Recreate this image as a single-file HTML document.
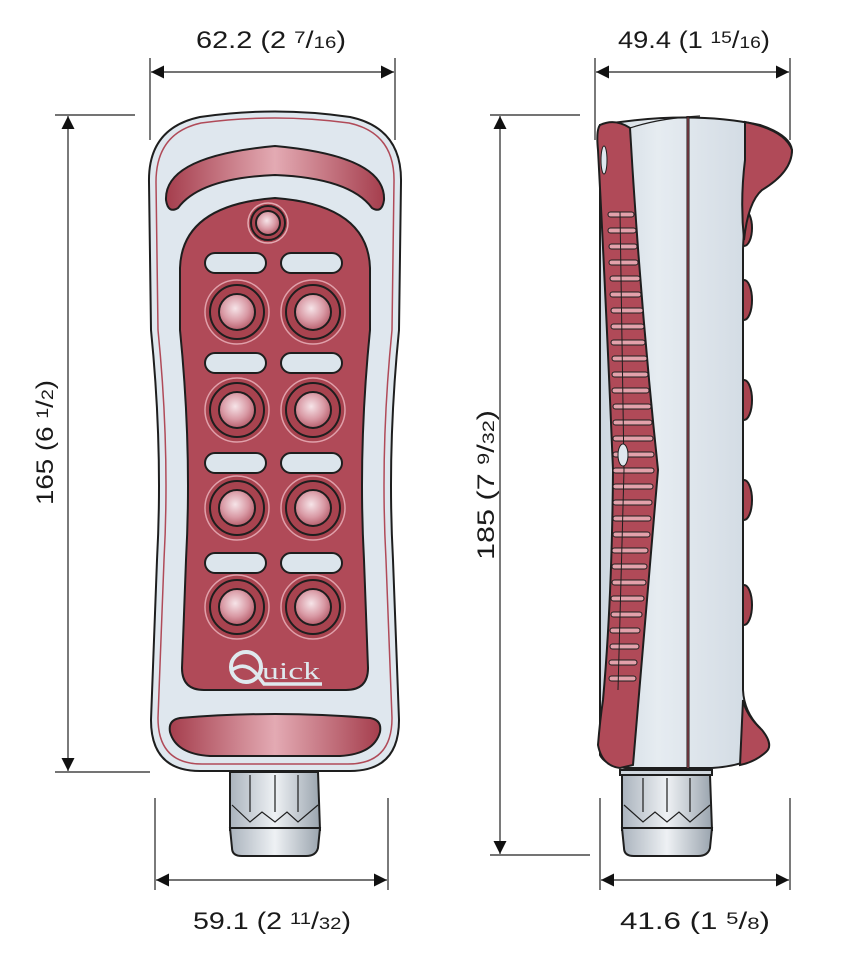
<!DOCTYPE html>
<html><head><meta charset="utf-8"><style>
html,body{margin:0;padding:0;background:#fff;}
svg{display:block;}
.dim{font-family:"Liberation Sans",sans-serif;fill:#1a1a1a;}
</style></head><body>
<svg width="860" height="960" viewBox="0 0 860 960" xmlns="http://www.w3.org/2000/svg">
<defs>
<marker id="ar" viewBox="0 0 10 10" refX="10" refY="5" markerWidth="20" markerHeight="13" markerUnits="userSpaceOnUse" orient="auto-start-reverse"><path d="M0 0 L10 5 L0 10 Z" fill="#111"/></marker>
<radialGradient id="btn" cx="0.45" cy="0.4" r="0.6"><stop offset="0" stop-color="#f6e4e8"/><stop offset="0.6" stop-color="#d99aa5"/><stop offset="1" stop-color="#b8606e"/></radialGradient>
<linearGradient id="bar" x1="0" x2="1"><stop offset="0" stop-color="#a53e4d"/><stop offset="0.5" stop-color="#e3aab3"/><stop offset="1" stop-color="#a53e4d"/></linearGradient>
<linearGradient id="metal" x1="0" x2="1"><stop offset="0" stop-color="#aab3bd"/><stop offset="0.5" stop-color="#eef1f4"/><stop offset="1" stop-color="#9aa4ae"/></linearGradient>
<linearGradient id="grey" x1="0" x2="1"><stop offset="0" stop-color="#cdd7e0"/><stop offset="0.3" stop-color="#e6ecf1"/><stop offset="1" stop-color="#c9d3dd"/></linearGradient>
</defs>

<g stroke="#222" stroke-width="1.2" fill="none">
<line x1="150" y1="58" x2="150" y2="140"/><line x1="395" y1="58" x2="395" y2="140"/>
<line x1="151" y1="72" x2="394" y2="72" marker-start="url(#ar)" marker-end="url(#ar)"/>
<line x1="55" y1="115" x2="135" y2="115"/><line x1="55" y1="772" x2="150" y2="772"/>
<line x1="68" y1="116" x2="68" y2="771" marker-start="url(#ar)" marker-end="url(#ar)"/>
<line x1="155" y1="798" x2="155" y2="890"/><line x1="388" y1="798" x2="388" y2="890"/>
<line x1="156" y1="880" x2="387" y2="880" marker-start="url(#ar)" marker-end="url(#ar)"/>
<line x1="595" y1="58" x2="595" y2="140"/><line x1="790" y1="58" x2="790" y2="140"/>
<line x1="596" y1="72" x2="789" y2="72" marker-start="url(#ar)" marker-end="url(#ar)"/>
<line x1="490" y1="115" x2="580" y2="115"/><line x1="490" y1="855" x2="590" y2="855"/>
<line x1="500" y1="116" x2="500" y2="854" marker-start="url(#ar)" marker-end="url(#ar)"/>
<line x1="600" y1="798" x2="600" y2="890"/><line x1="790" y1="798" x2="790" y2="890"/>
<line x1="601" y1="880" x2="789" y2="880" marker-start="url(#ar)" marker-end="url(#ar)"/>
</g>

<g class="dim" font-size="24">
<text x="196" y="48" textLength="150" lengthAdjust="spacingAndGlyphs">62.2  (2 <tspan font-size="17" dy="-5">7</tspan><tspan dy="5">/</tspan><tspan font-size="17">16</tspan>)</text>
<text x="618" y="48" textLength="152" lengthAdjust="spacingAndGlyphs">49.4  (1 <tspan font-size="17" dy="-5">15</tspan><tspan dy="5">/</tspan><tspan font-size="17">16</tspan>)</text>
<text x="193" y="929" textLength="158" lengthAdjust="spacingAndGlyphs">59.1  (2 <tspan font-size="17" dy="-5">11</tspan><tspan dy="5">/</tspan><tspan font-size="17">32</tspan>)</text>
<text x="620" y="929" textLength="150" lengthAdjust="spacingAndGlyphs">41.6  (1 <tspan font-size="17" dy="-5">5</tspan><tspan dy="5">/</tspan><tspan font-size="17">8</tspan>)</text>
<text transform="translate(53,505) rotate(-90)" textLength="125" lengthAdjust="spacingAndGlyphs">165  (6 <tspan font-size="17" dy="-5">1</tspan><tspan dy="5">/</tspan><tspan font-size="17">2</tspan>)</text>
<text transform="translate(494,560) rotate(-90)" textLength="150" lengthAdjust="spacingAndGlyphs">185  (7 <tspan font-size="17" dy="-5">9</tspan><tspan dy="5">/</tspan><tspan font-size="17">32</tspan>)</text>
</g>

<!-- FRONT VIEW -->
<g stroke="#1e1e1e" stroke-width="2">
<path d="M230 772 L318 772 L320 830 L230 830 Z" fill="url(#metal)"/>
<path d="M230 828 L320 828 L318 848 Q316 856 306 856 L242 856 Q232 856 232 848 Z" fill="url(#metal)"/>
<g stroke-width="1.2" fill="none"><line x1="250" y1="775" x2="250" y2="812"/><line x1="275" y1="775" x2="275" y2="812"/><line x1="298" y1="775" x2="298" y2="812"/>
<path d="M232 805 L250 822 L262 812 L275 822 L287 812 L298 822 L318 805"/></g>
<path d="M200 117 Q275 106 350 117 Q402 128 401 182 L399 330 Q387 450 393 560 L399 720 Q399 771 350 771 L200 771 Q151 771 151 720 L157 560 Q163 450 151 330 L149 182 Q148 128 200 117 Z" fill="#dfe7ee" stroke="#1e1e1e"/>
<path d="M201 123 Q275 113 349 123 Q395 133 394 182 L392 330 Q380 450 386 560 L392 718 Q392 764 348 764 L202 764 Q158 764 158 718 L164 560 Q170 450 158 330 L156 182 Q156 133 201 123 Z" fill="none" stroke="#b04a58" stroke-width="1.5"/>
<path d="M166 200 Q164 156 275 146 Q386 156 384 200 Q382 214 372 208 Q350 178 275 175 Q200 178 178 208 Q168 214 166 200 Z" fill="url(#bar)"/>
<path d="M180 718 Q275 710 370 718 Q382 720 380 732 Q374 754 340 756 L210 756 Q176 754 170 732 Q168 720 180 718 Z" fill="url(#bar)"/>
<path d="M180 268 Q182 205 275 198 Q368 205 370 268 L370 330 Q358 450 364 560 L368 668 Q368 690 346 690 L204 690 Q182 690 182 668 L186 560 Q192 450 180 330 Z" fill="#b04a58"/>
<circle cx="268" cy="223" r="20" fill="#a8434f" stroke="#e4aab2" stroke-width="1.5"/>
<circle cx="268" cy="223" r="17" fill="#a8434f"/>
<circle cx="268" cy="223" r="12" fill="url(#btn)"/>
<g fill="#dce5ec">
<rect x="205" y="253" width="61" height="20" rx="10"/><rect x="281" y="253" width="61" height="20" rx="10"/>
<rect x="205" y="353" width="61" height="20" rx="10"/><rect x="281" y="353" width="61" height="20" rx="10"/>
<rect x="205" y="453" width="61" height="20" rx="10"/><rect x="281" y="453" width="61" height="20" rx="10"/>
<rect x="205" y="553" width="61" height="20" rx="10"/><rect x="281" y="553" width="61" height="20" rx="10"/>
</g>
<g>
<g><circle cx="237" cy="312" r="32" fill="#a8434f" stroke="#e0a0aa" stroke-width="1.5"/><circle cx="237" cy="312" r="27" fill="#a8434f"/><circle cx="237" cy="312" r="18" fill="url(#btn)"/></g>
<g><circle cx="313" cy="312" r="32" fill="#a8434f" stroke="#e0a0aa" stroke-width="1.5"/><circle cx="313" cy="312" r="27" fill="#a8434f"/><circle cx="313" cy="312" r="18" fill="url(#btn)"/></g>
<g><circle cx="237" cy="410" r="32" fill="#a8434f" stroke="#e0a0aa" stroke-width="1.5"/><circle cx="237" cy="410" r="27" fill="#a8434f"/><circle cx="237" cy="410" r="18" fill="url(#btn)"/></g>
<g><circle cx="313" cy="410" r="32" fill="#a8434f" stroke="#e0a0aa" stroke-width="1.5"/><circle cx="313" cy="410" r="27" fill="#a8434f"/><circle cx="313" cy="410" r="18" fill="url(#btn)"/></g>
<g><circle cx="237" cy="508" r="32" fill="#a8434f" stroke="#e0a0aa" stroke-width="1.5"/><circle cx="237" cy="508" r="27" fill="#a8434f"/><circle cx="237" cy="508" r="18" fill="url(#btn)"/></g>
<g><circle cx="313" cy="508" r="32" fill="#a8434f" stroke="#e0a0aa" stroke-width="1.5"/><circle cx="313" cy="508" r="27" fill="#a8434f"/><circle cx="313" cy="508" r="18" fill="url(#btn)"/></g>
<g><circle cx="237" cy="607" r="32" fill="#a8434f" stroke="#e0a0aa" stroke-width="1.5"/><circle cx="237" cy="607" r="27" fill="#a8434f"/><circle cx="237" cy="607" r="18" fill="url(#btn)"/></g>
<g><circle cx="313" cy="607" r="32" fill="#a8434f" stroke="#e0a0aa" stroke-width="1.5"/><circle cx="313" cy="607" r="27" fill="#a8434f"/><circle cx="313" cy="607" r="18" fill="url(#btn)"/></g>
</g>
</g>
<g>
<circle cx="246" cy="667" r="15" fill="none" stroke="#dfe9ee" stroke-width="4"/>
<path d="M232 670 Q246 660 258 676 L264 684 L322 684" fill="none" stroke="#dfe9ee" stroke-width="3.5"/>
<text x="262" y="679" font-family="Liberation Serif,serif" font-size="24" fill="#dfe9ee" textLength="58" lengthAdjust="spacingAndGlyphs">uick</text>
</g>

<!-- SIDE VIEW -->
<g stroke="#1e1e1e" stroke-width="2">
<path d="M620 770 L712 770 L712 775 L620 775 Z" fill="#cfd6dd"/>
<path d="M622 775 L710 775 L712 830 L622 830 Z" fill="url(#metal)"/>
<path d="M622 828 L712 828 L710 848 Q708 856 698 856 L634 856 Q624 856 624 848 Z" fill="url(#metal)"/>
<g stroke-width="1.2" fill="none"><line x1="643" y1="778" x2="643" y2="812"/><line x1="667" y1="778" x2="667" y2="812"/><line x1="690" y1="778" x2="690" y2="812"/>
<path d="M624 805 L643 822 L655 812 L667 822 L679 812 L690 822 L710 805"/></g>
<g fill="#a8434f">
<ellipse cx="744" cy="228" rx="8" ry="18"/><ellipse cx="744" cy="300" rx="8" ry="20"/><ellipse cx="744" cy="400" rx="8" ry="20"/><ellipse cx="744" cy="500" rx="8" ry="20"/><ellipse cx="744" cy="605" rx="8" ry="20"/>
</g>
<path d="M600 125 Q690 110 760 125 Q790 135 792 150 Q790 175 760 190 Q744 205 743 250 L743 690 Q744 712 760 728 Q772 745 765 752 Q745 766 712 768 L625 768 Q605 765 600 755 Z" fill="url(#grey)"/>
<path d="M745 122 Q785 130 792 150 Q792 172 762 190 Q748 202 744 240 Q740 200 745 160 Z" fill="#b04a58"/>
<path d="M743 700 Q746 715 762 730 Q774 745 766 752 Q755 762 740 765 Z" fill="#b04a58"/>
<path d="M600 125 Q615 118 630 128 Q640 300 658 470 Q645 620 633 765 L620 768 Q602 766 598 745 Q600 720 603 700 Q612 600 613 470 Q606 300 598 150 Q596 130 600 125 Z" fill="#b04a58"/>
<path d="M688 116 L688 768" stroke="#1e1e1e" stroke-width="3" fill="none"/>
<path d="M688 116 L688 768" stroke="#b04a58" stroke-width="1" fill="none"/>
<path d="M630 128 Q660 118 700 116" fill="none" stroke-width="1.2"/>
</g>
<g stroke="#1e1e1e" stroke-width="1" fill="#e3a1ab">
<rect x="608" y="212" width="26" height="5" rx="2.5"/><rect x="608" y="228" width="28" height="5" rx="2.5"/><rect x="609" y="244" width="28" height="5" rx="2.5"/><rect x="609" y="260" width="29" height="5" rx="2.5"/>
<rect x="610" y="276" width="30" height="5" rx="2.5"/><rect x="610" y="292" width="31" height="5" rx="2.5"/><rect x="611" y="308" width="32" height="5" rx="2.5"/><rect x="611" y="324" width="33" height="5" rx="2.5"/>
<rect x="611" y="340" width="34" height="5" rx="2.5"/><rect x="612" y="356" width="35" height="5" rx="2.5"/><rect x="612" y="372" width="36" height="5" rx="2.5"/><rect x="612" y="388" width="37" height="5" rx="2.5"/>
<rect x="613" y="404" width="38" height="5" rx="2.5"/><rect x="613" y="420" width="39" height="5" rx="2.5"/><rect x="613" y="436" width="40" height="5" rx="2.5"/><rect x="613" y="452" width="41" height="5" rx="2.5"/>
<rect x="613" y="468" width="41" height="5" rx="2.5"/><rect x="613" y="484" width="40" height="5" rx="2.5"/><rect x="613" y="500" width="39" height="5" rx="2.5"/><rect x="613" y="516" width="38" height="5" rx="2.5"/>
<rect x="613" y="532" width="37" height="5" rx="2.5"/><rect x="612" y="548" width="36" height="5" rx="2.5"/><rect x="612" y="564" width="35" height="5" rx="2.5"/><rect x="612" y="580" width="34" height="5" rx="2.5"/>
<rect x="611" y="596" width="33" height="5" rx="2.5"/><rect x="611" y="612" width="31" height="5" rx="2.5"/><rect x="610" y="628" width="30" height="5" rx="2.5"/><rect x="610" y="644" width="29" height="5" rx="2.5"/><rect x="609" y="660" width="28" height="5" rx="2.5"/><rect x="609" y="676" width="27" height="5" rx="2.5"/>
</g>
<path d="M620 212 L624 470 L618 690" stroke="#1e1e1e" stroke-width="1" fill="none"/>
<ellipse cx="623" cy="455" rx="5" ry="11" fill="#dfe7ee" stroke="#1e1e1e" stroke-width="1"/>
<ellipse cx="604" cy="160" rx="3" ry="14" fill="#dfe7ee" stroke="#1e1e1e" stroke-width="1"/>
</svg>
</body></html>
